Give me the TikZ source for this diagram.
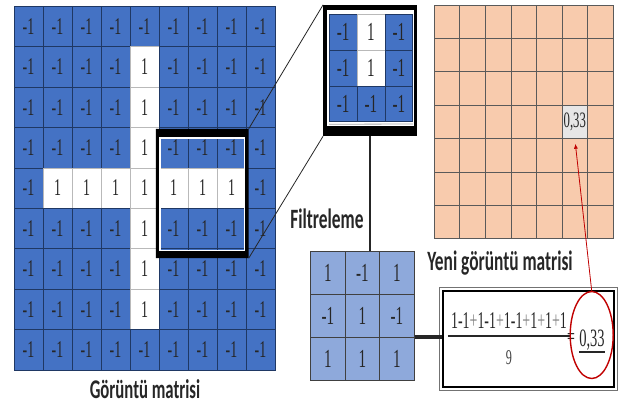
\documentclass[tikz,border=0pt]{standalone}
\usepackage{fontspec}
\usepackage{xcolor}
\usepackage{tikz}
\usetikzlibrary{
    arrows.meta,
    positioning,
    calc,
    fit,
    shapes.geometric
}
\newfontfamily\numfont[FakeStretch=0.58]{Liberation Serif}
\newfontfamily\lblfont[FakeStretch=0.62]{Carlito}
\definecolor{imBlue}{HTML}{4472C4}
\definecolor{imGrid}{HTML}{1F3864}
\definecolor{flBlue}{HTML}{8EA9DB}
\definecolor{nwPeach}{HTML}{F8CBAD}
\definecolor{nwGrid}{HTML}{5A5A5A}
\definecolor{nwGray}{HTML}{E7E6E6}
\definecolor{mkRed}{HTML}{C00000}
\tikzset{
    imCell/.style={
        draw=imGrid,
        fill=imBlue,
        line width=0.5pt,
        minimum width=29pt,
        minimum height=40.44pt,
        inner sep=0pt,
        text=black!85,
        font=\numfont\fontsize{24}{24}\selectfont
    },
    imOne/.style={imCell,fill=white,draw=gray!55},
    zmCell/.style={
        imCell,
        minimum width=27.8pt,
        minimum height=35.9pt,
        font=\numfont\fontsize{26}{26}\selectfont
    },
    zmOne/.style={zmCell,fill=white,draw=gray!55},
    flCell/.style={
        draw=black!75,
        fill=flBlue,
        line width=0.6pt,
        minimum width=34.5pt,
        minimum height=43.2pt,
        inner sep=0pt,
        text=black!85,
        font=\numfont\fontsize{26}{26}\selectfont
    },
    nwCell/.style={
        draw=nwGrid,
        fill=nwPeach,
        line width=0.6pt,
        minimum width=25.6pt,
        minimum height=33.36pt,
        inner sep=0pt,
        text=black!85,
        font=\numfont\fontsize{22}{22}\selectfont
    },
    lbl/.style={
        font=\lblfont\bfseries\fontsize{28}{28}\selectfont,
        text=black!85,
        inner sep=0pt,
        anchor=base
    },
    zoomLine/.style={line width=0.8pt,draw=black!85},
    redArrow/.style={-{Latex[length=5pt,width=4pt]},line width=0.8pt,draw=mkRed}
}

\begin{document}
\begin{tikzpicture}[x=1pt,y=-1pt]
    \useasboundingbox (0,0) rectangle (621,408);

    % image matrix
    \foreach \r in {1,...,9}{
        \foreach \c in {1,...,9}{
            \pgfmathtruncatemacro\isone{((\c==5)&&(\r>1)&&(\r<9))||((\r==5)&&(\c>1)&&(\c<9))}
            \ifnum\isone=1
                \node[imOne] (im-\r-\c) at ({14+29*(\c-0.5)},{6+40.44*(\r-0.5)}) {1};
            \else
                \node[imCell] (im-\r-\c) at ({14+29*(\c-0.5)},{6+40.44*(\r-0.5)}) {-1};
            \fi
        }
    }
    \node[lbl,font=\lblfont\bfseries\fontsize{27}{27}\selectfont] (lbImg) at (145,398) {Görüntü matrisi};

    % window on the image
    \node[inner sep=0pt,minimum width=92.5pt,minimum height=129pt] (win) at (202.25,193.5) {};
    \fill[black,even odd rule] (win.north west) rectangle (win.south east)
        ([shift={(3.5,8.5)}]win.north west) rectangle ([shift={(-3.5,-7)}]win.south east);
    \draw[white,line width=1.2pt] ([shift={(4.1,9.1)}]win.north west) rectangle ([shift={(-4.1,-7.6)}]win.south east);

    % zoomed window
    \node[inner sep=0pt,minimum width=93.4pt,minimum height=131pt] (zm) at (370,70.5) {};
    \fill[black] (zm.north west) rectangle (zm.south east);
    \fill[white] ([shift={(4,5)}]zm.north west) rectangle ([shift={(-2.7,-10)}]zm.south east);
    \foreach \r in {1,2,3}{
        \foreach \c in {1,2,3}{
            \pgfmathtruncatemacro\isone{(\c==2)&&(\r<3)}
            \ifnum\isone=1
                \node[zmOne] (zc-\r-\c) at ({329.3+27.8*(\c-0.5)},{14+35.9*(\r-0.5)}) {1};
            \else
                \node[zmCell] (zc-\r-\c) at ({329.3+27.8*(\c-0.5)},{14+35.9*(\r-0.5)}) {-1};
            \fi
        }
    }
    \draw[gray!70,line width=0.8pt] (zc-3-1.south west) ++(0,2.3) -- (zc-3-3.south east |- 0,124);

    \draw[zoomLine] (win.north east) -- (zm.north west);
    \draw[zoomLine] (win.south east) -- (zm.south west);

    % filter
    \foreach \r/\vals in {1/{1,-1,1},2/{-1,1,-1},3/{1,1,1}}{
        \foreach \v [count=\c] in \vals{
            \node[flCell] (fl-\r-\c) at ({310.7+34.5*(\c-0.5)},{251+43.2*(\r-0.5)}) {\v};
        }
    }
    \node[inner sep=0pt,fit=(fl-1-1)(fl-3-3)] (filt) {};
    \draw[black!85,line width=1.5pt] (zm.south) -- (zm.south |- filt.north);
    \node[lbl] (lbFilt) at (327,228) {Filtreleme};

    % new image matrix
    \foreach \r in {1,...,7}{
        \foreach \c in {1,...,7}{
            \node[nwCell] (nw-\r-\c) at ({434+25.6*(\c-0.5)},{5+33.36*(\r-0.5)}) {};
        }
    }
    \node[nwCell,fill=nwGray] (nw-4-6) at ({434+25.6*5.5},{5+33.36*3.5}) {0,33};
    \node[lbl] (lbNew) at (500,270) {Yeni görüntü matrisi};

    % computation
    \node[draw,line width=2pt,minimum width=171pt,minimum height=96pt,inner sep=0pt] (frm) at (528.2,338.8) {};
    \draw[black!55,line width=0.5pt] ([shift={(-2.5,-2.5)}]frm.north west) rectangle ([shift={(2.5,2.5)}]frm.south east);
    \draw[black!85,line width=3.5pt] (fl-3-3.north east) -- (frm.west |- fl-3-3.north east);

    \node[anchor=base,inner xsep=3pt,inner ysep=1pt,text=black!85,font=\numfont\fontsize{24}{24}\selectfont] (num) at (509,328)
        {1-1{\color{black!50}+}1-1{\color{black!50}+}1-1{\color{black!50}+}1{\color{black!50}+}1{\color{black!50}+}1};
    \draw[black!85,line width=2pt] ([yshift=-6.5pt]num.south west) -- ([yshift=-6.5pt]num.south east);
    \node[anchor=base,text=black!75,font=\numfont\fontsize{21}{21}\selectfont] (den) at (509,364) {9};
    \node[text=black!85,font=\numfont\fontsize{24}{24}\selectfont] (eq) at (571,339) {=};
    \node[anchor=base,inner sep=0pt,text=black!85,font=\numfont\fontsize{25}{25}\selectfont] (res) at (592,346) {0,33};
    \draw[black!85,line width=1.5pt] ([yshift=-6pt]res.base west) -- ([yshift=-6pt]res.base east);
    \node[ellipse,draw=mkRed,line width=1.4pt,minimum width=43pt,minimum height=87pt,inner sep=0pt] (ring) at (591.7,335) {};

    \draw[redArrow,shorten >=5pt] (ring.north) -- (nw-4-6.south);
\end{tikzpicture}
\end{document}
